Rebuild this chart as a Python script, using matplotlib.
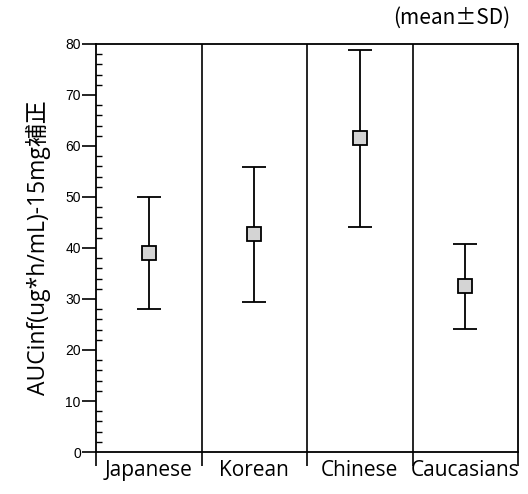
import numpy as np
import matplotlib.pyplot as plt
from matplotlib.ticker import MultipleLocator, FixedLocator

plt.rcParams['font.family'] = ['Liberation Sans', 'Noto Sans CJK JP', 'DejaVu Sans']

groups = ['Japanese', 'Korean', 'Chinese', 'Caucasians']
mean_auc = [39.0, 42.7, 61.5, 32.5]
sd_auc = [11.0, 13.2, 17.4, 8.3]

label_font = ['Open Sans', 'Noto Sans CJK JP', 'DejaVu Sans']

fig = plt.figure(figsize=(5.28, 4.94), dpi=100)
ax = fig.add_axes([0.182, 0.085, 0.799, 0.826])

x = np.arange(len(groups)) + 0.5
ax.errorbar(x, mean_auc, yerr=sd_auc, fmt='s', color='black', ecolor='black',
            elinewidth=1.3, capsize=8.5, capthick=1.3,
            markersize=10, markerfacecolor='#d4d4d4', markeredgecolor='black',
            markeredgewidth=1.3, zorder=3)

# group dividers
for xv in range(1, len(groups)):
    ax.axvline(xv, color='black', lw=1.2)

ax.set_xlim(0, len(groups))
ax.set_ylim(0, 80)

ax.yaxis.set_major_locator(MultipleLocator(10))
ax.yaxis.set_minor_locator(MultipleLocator(2))
ax.tick_params(axis='y', which='major', direction='out', length=10, width=1.2,
               labelsize=10, pad=1)
ax.tick_params(axis='y', which='minor', direction='in', length=4, width=1)

ax.xaxis.set_major_locator(FixedLocator(range(len(groups) + 1)))
ax.xaxis.set_major_formatter(plt.NullFormatter())
ax.xaxis.set_minor_locator(FixedLocator(x))
ax.set_xticklabels(groups, minor=True, family=label_font, fontsize=15)
ax.tick_params(axis='x', which='major', direction='out', length=10, width=1.2)
ax.tick_params(axis='x', which='minor', length=0, pad=6)

for s in ax.spines.values():
    s.set_linewidth(1.3)

ax.set_ylabel('AUCinf(ug*h/mL)-15mg補正', family=label_font, fontsize=16.5,
              labelpad=10)
fig.text(0.855, 0.965, '(mean±SD)', family=['Noto Sans CJK JP', 'DejaVu Sans'],
         fontsize=15, ha='center', va='center')

fig.savefig('out.png', dpi=100)
